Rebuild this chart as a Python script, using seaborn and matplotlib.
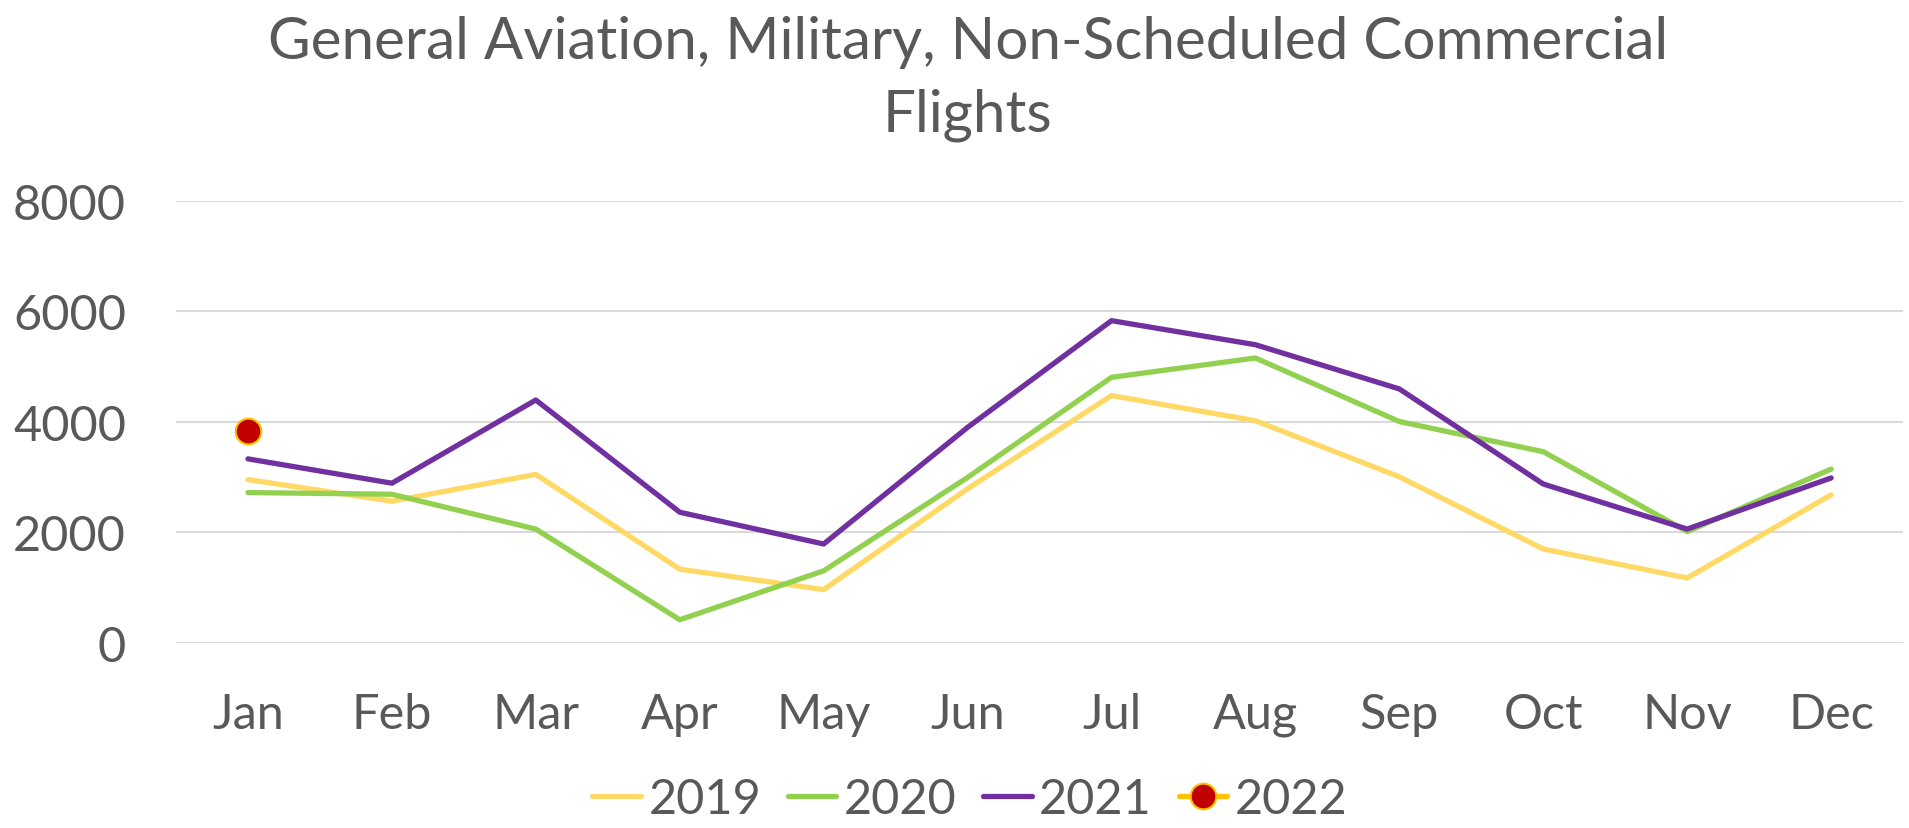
import pandas as pd
import seaborn as sns
import matplotlib.pyplot as plt

# ── Data ─────────────────────────────────────────────────────────────────────
months = ["Jan", "Feb", "Mar", "Apr", "May", "Jun",
          "Jul", "Aug", "Sep", "Oct", "Nov", "Dec"]
y2019 = [2955, 2565, 3050, 1335, 965, 2790, 4475, 4020, 3005, 1700, 1175, 2680]
y2020 = [2720, 2690, 2060, 420, 1305, 2995, 4805, 5155, 4005, 3460, 2015, 3145]
y2021 = [3330, 2890, 4395, 2365, 1790, 3900, 5830, 5395, 4595, 2875, 2060, 2985]
y2022 = [3835]          # only January reported so far
yticks = [0, 2000, 4000, 6000, 8000]

title = "General Aviation, Military, Non-Scheduled Commercial\nFlights"
text_color = "#595959"

# ── Style ────────────────────────────────────────────────────────────────────
sns.set_style("white")
plt.rcParams["font.family"] = ["Lato", "DejaVu Sans"]
plt.rcParams["text.color"] = text_color

fig = plt.figure(figsize=(19.09, 8.29), dpi=100)
ax = fig.add_axes([0.0922, 0.2232, 0.9047, 0.5335])

series = [("2019", y2019, "#FFD966"),
          ("2020", y2020, "#92D050"),
          ("2021", y2021, "#7030A0")]

for year, vals, col in series:
    sns.lineplot(x=months[:len(vals)], y=vals, ax=ax, color=col, lw=3.8,
                 sort=False, label=year, solid_capstyle="round")

sns.lineplot(x=months[:len(y2022)], y=y2022, ax=ax, color="#FFC000", lw=3.8,
             sort=False, label="2022", marker="o", markersize=18.5,
             markerfacecolor="#C00000", markeredgecolor="#FFC000",
             markeredgewidth=1.5, solid_capstyle="round")

# ── Axes ─────────────────────────────────────────────────────────────────────
ax.set_xlim(-0.5, 11.5)
ax.set_ylim(0, 8000)
ax.set_yticks(yticks)
ax.set_yticklabels([str(v) for v in yticks])
ax.set_xlabel("")
ax.set_ylabel("")
ax.grid(axis="y", color="#D9D9D9", lw=1.5)
ax.set_axisbelow(True)
for side in ax.spines:
    ax.spines[side].set_visible(False)
ax.tick_params(axis="both", length=0, labelsize=35, colors=text_color)
ax.tick_params(axis="y", pad=36)
ax.tick_params(axis="x", pad=35)

fig.text(0.507, 0.905, title, ha="center", va="center", fontsize=42,
         color=text_color, linespacing=1.45)

ax.legend(loc="center", bbox_to_anchor=(0.508, 0.035), bbox_transform=fig.transFigure,
          ncol=4, frameon=False, fontsize=35, handlelength=1.0,
          handletextpad=0.15, columnspacing=0.55)

fig.savefig("out.png", dpi=100, facecolor="white")
